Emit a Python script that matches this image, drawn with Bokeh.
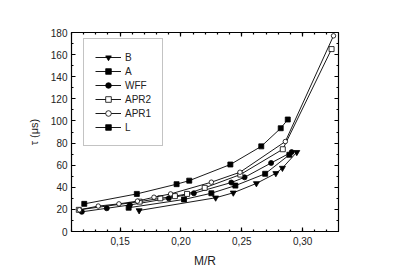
from bokeh.plotting import figure
from bokeh.models import LinearAxis, FixedTicker, Range1d
from bokeh.embed import file_html
from bokeh.resources import INLINE

# ---- data ----
B_x = [0.1656, 0.2285, 0.2430, 0.2620, 0.2780, 0.2834, 0.2952]
B_y = [19.0, 30.5, 35.0, 43.5, 52.6, 57.4, 71.7]

A_x = [0.1570, 0.2025, 0.2250, 0.2447, 0.2692, 0.2891]
A_y = [21.5, 29.0, 34.6, 41.5, 52.2, 69.4]

WFF_x = [0.1185, 0.1390, 0.1580, 0.1900, 0.2106, 0.2414, 0.2523, 0.2741, 0.2910]
WFF_y = [17.8, 21.0, 24.0, 30.0, 34.6, 44.3, 49.0, 62.0, 71.8]

APR2_x = [0.1160, 0.1660, 0.1830, 0.1950, 0.2050, 0.2195, 0.2488, 0.2837, 0.3238]
APR2_y = [19.6, 27.0, 30.0, 32.0, 34.0, 39.5, 51.5, 74.4, 165.0]

APR1_x = [0.1165, 0.1320, 0.1490, 0.1642, 0.1778, 0.1915, 0.2250, 0.2485, 0.2858, 0.3254]
APR1_y = [19.6, 23.0, 25.0, 27.5, 31.0, 34.0, 44.6, 53.6, 81.4, 177.0]

L_x = [0.1205, 0.1637, 0.1964, 0.2068, 0.2406, 0.2660, 0.2820, 0.2878]
L_y = [25.0, 34.0, 42.8, 46.0, 60.6, 77.0, 93.4, 101.3]

x_ticks = [0.15, 0.20, 0.25, 0.30]
x_tick_labels = ["0,15", "0,20", "0,25", "0,30"]
x_minor = [round(0.11 + 0.01 * i, 2) for i in range(23)]
y_ticks = [0, 20, 40, 60, 80, 100, 120, 140, 160, 180]
y_minor = list(range(0, 181, 10))

FONT = "Liberation Sans"

p = figure(frame_width=267, frame_height=199, output_backend="svg", toolbar_location=None,
           x_range=Range1d(0.11, 0.3295), y_range=Range1d(0, 180),
           x_axis_location=None, y_axis_location=None)
p.min_border_left = 71
p.min_border_right = 30
p.min_border_top = 32
p.min_border_bottom = 36
p.xgrid.visible = False
p.ygrid.visible = False
p.outline_line_color = "black"
p.outline_line_width = 1
p.background_fill_color = "white"
p.border_fill_color = "white"

xt = FixedTicker(ticks=x_ticks, minor_ticks=x_minor)
yt = FixedTicker(ticks=y_ticks, minor_ticks=y_minor)


def style(ax, show_labels):
    ax.axis_line_color = "black"
    ax.axis_line_width = 1.2
    ax.major_tick_in = 4
    ax.major_tick_out = 0
    ax.minor_tick_in = 2
    ax.minor_tick_out = 0
    ax.major_tick_line_color = "black"
    ax.minor_tick_line_color = "black"
    ax.major_tick_line_width = 1.2
    ax.minor_tick_line_width = 1.2
    ax.major_label_text_font = FONT
    ax.major_label_text_font_size = "10px"
    ax.major_label_text_color = "#222222"
    ax.axis_label_text_font = FONT
    ax.axis_label_text_font_style = "normal"
    ax.axis_label_text_color = "#222222"
    if not show_labels:
        ax.major_label_text_alpha = 0
        ax.major_label_text_font_size = "1px"


xb = LinearAxis(ticker=xt, axis_label="M/R")
xb.major_label_overrides = {t: s for t, s in zip(x_ticks, x_tick_labels)}
style(xb, True)
xb.axis_label_text_font_size = "12px"
xb.major_label_standoff = 5
xb.axis_label_standoff = 6
p.add_layout(xb, "below")

xa = LinearAxis(ticker=xt)
style(xa, False)
p.add_layout(xa, "above")

yl = LinearAxis(ticker=yt, axis_label="τ (μs)")
style(yl, True)
yl.axis_label_text_font_size = "11px"
yl.major_label_standoff = 4
yl.axis_label_standoff = 8
p.add_layout(yl, "left")

yr = LinearAxis(ticker=yt)
style(yr, False)
p.add_layout(yr, "right")

series = [
    ("B", B_x, B_y, "inverted_triangle", "black", 6),
    ("A", A_x, A_y, "square", "black", 5),
    ("WFF", WFF_x, WFF_y, "circle", "black", 5),
    ("APR2", APR2_x, APR2_y, "square", "white", 5),
    ("APR1", APR1_x, APR1_y, "circle", "white", 4.5),
    ("L", L_x, L_y, "square", "black", 5),
]

for name, xs, ys, mk, fill, sz in series:
    p.line(xs, ys, line_color="black", line_width=0.9, legend_label=name)
    p.scatter(xs, ys, marker=mk, size=sz, fill_color=fill, line_color="black",
              line_width=0.8, legend_label=name)

lg = p.legend[0]
lg.location = (12, 85)
lg.border_line_color = "#888888"
lg.border_line_width = 1
lg.background_fill_color = "white"
lg.background_fill_alpha = 1
lg.label_text_font = FONT
lg.label_text_font_size = "10px"
lg.label_text_color = "#222222"
lg.glyph_width = 26
lg.glyph_height = 14
lg.label_height = 14
lg.spacing = 0
lg.padding = 11
lg.margin = 0
lg.label_standoff = 4

open("out.html", "w").write(file_html(p, INLINE))
